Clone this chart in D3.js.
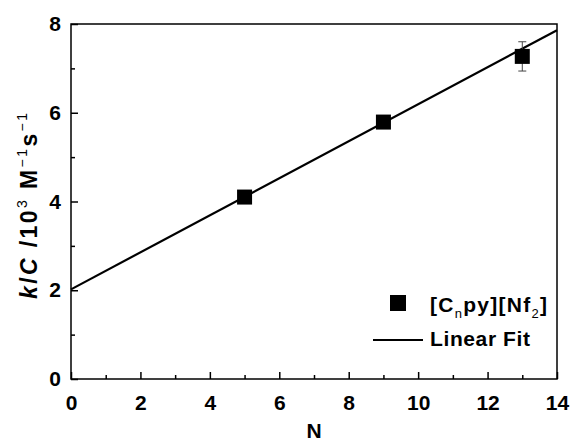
<!DOCTYPE html>
<html>
<head>
<meta charset="utf-8">
<script src="https://cdn.jsdelivr.net/npm/d3@7"></script>
<style>
  body { margin: 0; background: #fff; }
  text { font-family: "Liberation Sans", Arial, sans-serif; }
</style>
</head>
<body>
<div id="chart"></div>
<script>
// measured points
const chainN = [5, 9, 13];
const rate = [4.1, 5.79, 7.27];
const rateErr = [0, 0, 0.33];

// fitted line end points
const fitN = [0, 14];
const fitRate = [2.02, 7.86];

const xTicks = [0, 2, 4, 6, 8, 10, 12, 14];
const yTicks = [0, 2, 4, 6, 8];

const W = 571, H = 443;
const margin = {top: 24, right: 14, bottom: 64, left: 71};

const svg = d3.select("#chart").append("svg")
    .attr("width", W)
    .attr("height", H);

const x = d3.scaleLinear().domain([0, 14]).range([margin.left, W - margin.right]);
const y = d3.scaleLinear().domain([0, 8]).range([H - margin.bottom, margin.top]);

// frame
svg.append("rect")
    .attr("x", x(0)).attr("y", y(8))
    .attr("width", x(14) - x(0)).attr("height", y(0) - y(8))
    .attr("fill", "none").attr("stroke", "#000").attr("stroke-width", 1.5);

// x axis, ticks pointing inward
const xAxis = svg.append("g")
    .attr("transform", `translate(0,${y(0)})`)
    .call(d3.axisBottom(x).tickValues(xTicks).tickSize(-7).tickPadding(16).tickFormat(d3.format("d")));
xAxis.select(".domain").remove();
xAxis.selectAll(".tick line").attr("stroke-width", 1.5);
xAxis.selectAll("text").attr("font-size", 21).attr("font-weight", "bold").attr("fill", "#000");

svg.append("g")
    .attr("transform", `translate(0,${y(0)})`)
    .call(d3.axisBottom(x).tickValues(d3.range(1, 14, 2)).tickSize(-4).tickFormat(""))
    .call(g => g.select(".domain").remove())
    .selectAll("line").attr("stroke-width", 1.5);

// y axis
const yAxis = svg.append("g")
    .attr("transform", `translate(${x(0)},0)`)
    .call(d3.axisLeft(y).tickValues(yTicks).tickSize(-7).tickPadding(10).tickFormat(d3.format("d")));
yAxis.select(".domain").remove();
yAxis.selectAll(".tick line").attr("stroke-width", 1.5);
yAxis.selectAll("text").attr("font-size", 21).attr("font-weight", "bold").attr("fill", "#000");

svg.append("g")
    .attr("transform", `translate(${x(0)},0)`)
    .call(d3.axisLeft(y).tickValues([1, 3, 5, 7]).tickSize(-4).tickFormat(""))
    .call(g => g.select(".domain").remove())
    .selectAll("line").attr("stroke-width", 1.5);

// axis titles
svg.append("text")
    .attr("x", (x(0) + x(14)) / 2).attr("y", 438)
    .attr("text-anchor", "middle")
    .attr("font-size", 21).attr("font-weight", "bold")
    .text("N");

const yTitle = svg.append("text")
    .attr("transform", `translate(37,206) rotate(-90)`)
    .attr("text-anchor", "middle")
    .attr("font-size", 23).attr("font-weight", "bold")
    .attr("textLength", 186).attr("lengthAdjust", "spacing");
yTitle.append("tspan").attr("font-style", "italic").text("k");
yTitle.append("tspan").text("/");
yTitle.append("tspan").attr("font-style", "italic").text("C");
yTitle.append("tspan").text(" /10");
yTitle.append("tspan").attr("font-size", 14).attr("font-weight", "normal").attr("dy", -10).text("3");
yTitle.append("tspan").attr("dy", 10).text(" M");
yTitle.append("tspan").attr("font-size", 14).attr("font-weight", "normal").attr("dy", -10).text("\u22121");
yTitle.append("tspan").attr("dy", 10).text("s");
yTitle.append("tspan").attr("font-size", 14).attr("font-weight", "normal").attr("dy", -10).text("\u22121");

// fit line
const fit = fitN.map((n, i) => [n, fitRate[i]]);
svg.append("path")
    .datum(fit)
    .attr("d", d3.line().x(d => x(d[0])).y(d => y(d[1])))
    .attr("fill", "none").attr("stroke", "#000").attr("stroke-width", 2.2);

// error bars
const pts = chainN.map((n, i) => ({n, v: rate[i], e: rateErr[i]}));
const eb = svg.append("g").attr("stroke", "#444").attr("stroke-width", 1);
pts.filter(d => d.e > 0).forEach(d => {
  eb.append("line").attr("x1", x(d.n)).attr("x2", x(d.n)).attr("y1", y(d.v - d.e)).attr("y2", y(d.v + d.e));
  [d.v - d.e, d.v + d.e].forEach(v => {
    eb.append("line").attr("x1", x(d.n) - 4).attr("x2", x(d.n) + 4).attr("y1", y(v)).attr("y2", y(v));
  });
});

// markers
const sz = 15;
svg.selectAll(".pt")
    .data(pts)
    .enter().append("rect")
    .attr("class", "pt")
    .attr("x", d => x(d.n) - sz / 2)
    .attr("y", d => y(d.v) - sz / 2)
    .attr("width", sz).attr("height", sz)
    .attr("fill", "#000");

// legend
const lg = svg.append("g");
lg.append("rect").attr("x", 390).attr("y", 295).attr("width", 16).attr("height", 16).attr("fill", "#000");
const l1 = lg.append("text").attr("x", 430).attr("y", 312).attr("font-size", 21).attr("font-weight", "bold")
    .attr("textLength", 117).attr("lengthAdjust", "spacing");
l1.append("tspan").text("[C");
l1.append("tspan").attr("font-size", 13).attr("font-weight", "normal").attr("dy", 6).text("n");
l1.append("tspan").attr("dy", -6).text("py][Nf");
l1.append("tspan").attr("font-size", 13).attr("font-weight", "normal").attr("dy", 6).text("2");
l1.append("tspan").attr("dy", -6).text("]");

lg.append("line").attr("x1", 373).attr("x2", 423).attr("y1", 340).attr("y2", 340)
    .attr("stroke", "#000").attr("stroke-width", 2.2);
lg.append("text").attr("x", 430).attr("y", 346).attr("font-size", 21).attr("font-weight", "bold")
    .attr("textLength", 100).attr("lengthAdjust", "spacing")
    .text("Linear Fit");
</script>
</body>
</html>
